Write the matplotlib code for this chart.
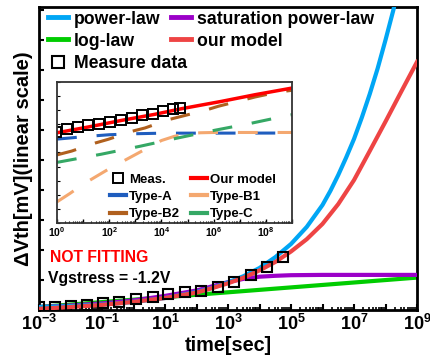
import numpy as np
import matplotlib
matplotlib.use('Agg')
import matplotlib.pyplot as plt
from matplotlib.lines import Line2D
from matplotlib.ticker import FixedLocator, LogLocator, FuncFormatter, NullFormatter

plt.rcParams['font.family'] = ['Liberation Sans', 'DejaVu Sans']
plt.rcParams['font.weight'] = 'bold'
plt.rcParams['mathtext.fontset'] = 'custom'
plt.rcParams['mathtext.rm'] = 'Liberation Sans:bold'
plt.rcParams['mathtext.bf'] = 'Liberation Sans:bold'
plt.rcParams['mathtext.it'] = 'Liberation Sans:bold:italic'

# ---------------- main panel data (x given as log10(time)) ----------------
meas_logt = [-3.0, -2.49, -1.98, -1.48, -0.97, -0.46, 0.08, 0.62, 1.10, 1.63,
             2.14, 2.68, 3.19, 3.73, 4.24, 4.75]
meas_dvth = [0.09, 0.11, 0.13, 0.17, 0.22, 0.28, 0.36, 0.44, 0.53, 0.60,
             0.64, 0.78, 0.95, 1.17, 1.44, 1.78]

pow_logt = [-3, -2, -1, 0, 1, 2, 2.5, 3, 3.5, 4, 4.5, 5, 5.5, 6, 6.25, 6.5,
            6.75, 7, 7.25, 7.5, 7.75, 8, 8.25, 8.5]
pow_dvth = [0.10, 0.13, 0.18, 0.27, 0.40, 0.60, 0.74, 0.92, 1.13, 1.40, 1.76,
            2.20, 2.77, 3.50, 3.97, 4.50, 5.08, 5.70, 6.42, 7.20, 8.05, 9.00,
            10.0, 11.2]

sat_logt = [-3, -2, -1, 0, 1, 2, 2.5, 3, 3.5, 4, 4.5, 5, 6, 7, 9]
sat_dvth = [0.10, 0.15, 0.22, 0.32, 0.47, 0.65, 0.79, 0.93, 1.04, 1.11, 1.14,
            1.16, 1.17, 1.17, 1.17]

log_logt = [-3, 0, 3, 6, 9]
log_dvth = [0.10, 0.345, 0.59, 0.835, 1.08]

our_logt = [-3, -2, -1, 0, 1, 2, 2.5, 3, 3.5, 4, 4.5, 5, 5.5, 6, 6.5, 7,
            7.5, 8, 8.5, 9]
our_dvth = [0.04, 0.10, 0.17, 0.27, 0.40, 0.58, 0.73, 0.89, 1.08, 1.32, 1.60,
            1.95, 2.36, 2.87, 3.53, 4.33, 5.30, 6.28, 7.28, 8.27]

# ---------------- inset data ----------------
in_meas_logt = [-0.05, 0.37, 0.79, 1.20, 1.62, 2.03, 2.45, 2.86, 3.27, 3.67,
                4.07, 4.46, 4.71]
in_meas_v = [6.45, 6.69, 6.81, 6.93, 7.04, 7.16, 7.33, 7.47, 7.64, 7.75,
             7.92, 8.05, 8.13]

in_our_logt = [0, 1.2, 2.48, 3.75, 4.78, 6.31, 7.59, 9.0]
in_our_v = [6.4, 6.81, 7.28, 7.71, 8.11, 8.63, 9.10, 9.57]

typeA_logt = [0, 0.5, 1, 2, 3, 4, 9]
typeA_v = [5.95, 6.03, 6.12, 6.26, 6.33, 6.37, 6.38]

typeB1_logt = [0, 0.5, 1, 1.5, 2, 2.5, 3, 3.5, 4, 4.5, 5, 5.5, 6, 9]
typeB1_v = [1.5, 2.1, 2.75, 3.3, 3.85, 4.35, 4.85, 5.35, 5.85, 6.15, 6.33,
            6.40, 6.42, 6.42]

typeB2_logt = [0, 0.56, 1.46, 1.97, 2.86, 3.37, 4.27, 4.78, 5.67, 6.18, 7.08,
               7.59, 8.48, 9.0]
typeB2_v = [4.83, 5.10, 5.67, 5.94, 6.50, 6.74, 7.33, 7.57, 7.99, 8.28, 8.70,
            8.94, 9.29, 9.41]

typeC_logt = [0, 1.7, 3.2, 4.6, 6.05, 7.45, 8.85, 9.0]
typeC_v = [4.3, 4.88, 5.45, 6.02, 6.58, 7.08, 7.63, 7.68]


def t(logs):
    return 10.0 ** np.asarray(logs)


def decade_fmt(parity):
    def f(x, pos):
        e = int(round(np.log10(x)))
        if e % 2 != parity:
            return ''
        return r'$\mathbf{10^{%d}}$' % e
    return f


fig = plt.figure(figsize=(4.3, 3.55), dpi=100)
ax = fig.add_axes([39 / 430, 45 / 355, 378 / 430, 303 / 355])

c_pow = '#00A6F5'
c_sat = '#9B00C8'
c_log = '#00CC00'
c_our = '#EE4444'

ax.plot(t(log_logt), log_dvth, color=c_log, lw=3, zorder=2)
ax.plot(t(sat_logt), sat_dvth, color=c_sat, lw=3, zorder=3)
ax.plot(t(pow_logt), pow_dvth, color=c_pow, lw=3, zorder=3)
ax.plot(t(our_logt), our_dvth, color=c_our, lw=3, zorder=4)
ax.plot(t(meas_logt), meas_dvth, ls='none', marker='s', ms=7.2, mfc='none',
        mec='black', mew=1.5, zorder=5)

ax.set_xscale('log')
ax.set_xlim(1e-3, 1e9)
ax.set_ylim(0, 10.1)
ax.xaxis.set_major_locator(FixedLocator(10.0 ** np.arange(-3, 10)))
ax.xaxis.set_minor_locator(LogLocator(base=10, subs=np.arange(2, 10), numticks=100))
ax.xaxis.set_major_formatter(FuncFormatter(decade_fmt(1)))
ax.xaxis.set_minor_formatter(NullFormatter())
ax.set_yticks(np.arange(0, 11))
ax.tick_params(axis='x', which='major', direction='in', length=4.5, width=1.5,
               labelsize=13, pad=3)
ax.tick_params(axis='x', which='minor', direction='in', length=2.5, width=1.2)
ax.tick_params(axis='y', which='major', direction='in', length=3.5, width=1.5,
               labelleft=False)
for s in ax.spines.values():
    s.set_linewidth(2)

ax.set_xlabel('time[sec]', fontsize=14.3, fontweight='bold', labelpad=1)
ax.set_ylabel('ΔVth[mV](linear scale)', fontsize=14.5, fontweight='bold', labelpad=4)

ax.text(11 / 378, 53 / 303, 'NOT FITTING', transform=ax.transAxes, color='#FF0000',
        fontsize=11.3, fontweight='bold', ha='left', va='center')
ax.text(9 / 378, 31 / 303, 'Vgstress = -1.2V', transform=ax.transAxes, color='black',
        fontsize=11.3, fontweight='bold', ha='left', va='center')

h_pow = Line2D([], [], color=c_pow, lw=3.5, label='power-law')
h_log = Line2D([], [], color=c_log, lw=3.5, label='log-law')
h_meas = Line2D([], [], ls='none', marker='s', ms=8.5, mfc='none', mec='black',
                mew=1.5, label='Measure data')
h_sat = Line2D([], [], color=c_sat, lw=3.5, label='saturation power-law')
h_our = Line2D([], [], color=c_our, lw=3.5, label='our model')
ax.legend(handles=[h_pow, h_log, h_meas, h_sat, h_our], ncol=2, loc='upper left',
          bbox_to_anchor=(5.5 / 378, 1.0), frameon=False, borderaxespad=0,
          borderpad=0.2, handlelength=1.15, handletextpad=0.3, labelspacing=0.29,
          columnspacing=-0.88, prop={'size': 12.7, 'weight': 'bold'})

# ---------------- inset ----------------
ax_in = fig.add_axes([57 / 430, (355 - 223) / 355, 235 / 430, 141 / 355], zorder=10)
ax_in.set_facecolor('white')

c_in_our = '#FF0000'
c_A = '#1F5DBE'
c_B1 = '#F4A870'
c_B2 = '#B0601E'
c_C = '#35A865'
dash = (0, (6.5, 6.5))

ax_in.plot(t(typeA_logt), typeA_v, color=c_A, lw=2.2, ls=dash)
ax_in.plot(t(typeB1_logt), typeB1_v, color=c_B1, lw=2.2, ls=dash)
ax_in.plot(t(typeB2_logt), typeB2_v, color=c_B2, lw=2.2, ls=dash)
ax_in.plot(t(typeC_logt), typeC_v, color=c_C, lw=2.2, ls=dash)
ax_in.plot(t(in_our_logt), in_our_v, color=c_in_our, lw=2.5)
ax_in.plot(t(in_meas_logt), in_meas_v, ls='none', marker='s', ms=6.5, mfc='none',
           mec='black', mew=1.4)

ax_in.set_xscale('log')
ax_in.set_xlim(1, 1e9)
ax_in.set_ylim(0, 10)
ax_in.xaxis.set_major_locator(FixedLocator(10.0 ** np.arange(0, 10)))
ax_in.xaxis.set_minor_locator(LogLocator(base=10, subs=np.arange(2, 10), numticks=100))
ax_in.xaxis.set_major_formatter(FuncFormatter(decade_fmt(0)))
ax_in.xaxis.set_minor_formatter(NullFormatter())
ax_in.set_yticks(np.arange(0, 11))
ax_in.tick_params(axis='x', which='major', direction='in', length=3, width=1,
                  labelsize=7.5, pad=1.5)
ax_in.tick_params(axis='x', which='minor', direction='in', length=1.5, width=0.8)
ax_in.tick_params(axis='y', direction='in', length=2, width=0.8, labelleft=False)
for s in ax_in.spines.values():
    s.set_linewidth(1.3)
    s.set_color('#333333')

ih_meas = Line2D([], [], ls='none', marker='s', ms=7, mfc='none', mec='black',
                 mew=1.4, label='Meas.')
ih_A = Line2D([], [], color=c_A, lw=3, label='Type-A')
ih_B2 = Line2D([], [], color=c_B2, lw=3, label='Type-B2')
ih_our = Line2D([], [], color=c_in_our, lw=3, label='Our model')
ih_B1 = Line2D([], [], color=c_B1, lw=3, label='Type-B1')
ih_C = Line2D([], [], color=c_C, lw=3, label='Type-C')
ax_in.legend(handles=[ih_meas, ih_A, ih_B2, ih_our, ih_B1, ih_C], ncol=2,
             loc='upper left', bbox_to_anchor=(0.2255, 0.35), frameon=False,
             borderaxespad=0, borderpad=0, handlelength=1.2, handletextpad=0.25,
             labelspacing=0.37, columnspacing=0.8, prop={'size': 9.5, 'weight': 'bold'})

plt.savefig('out.png', dpi=100)
